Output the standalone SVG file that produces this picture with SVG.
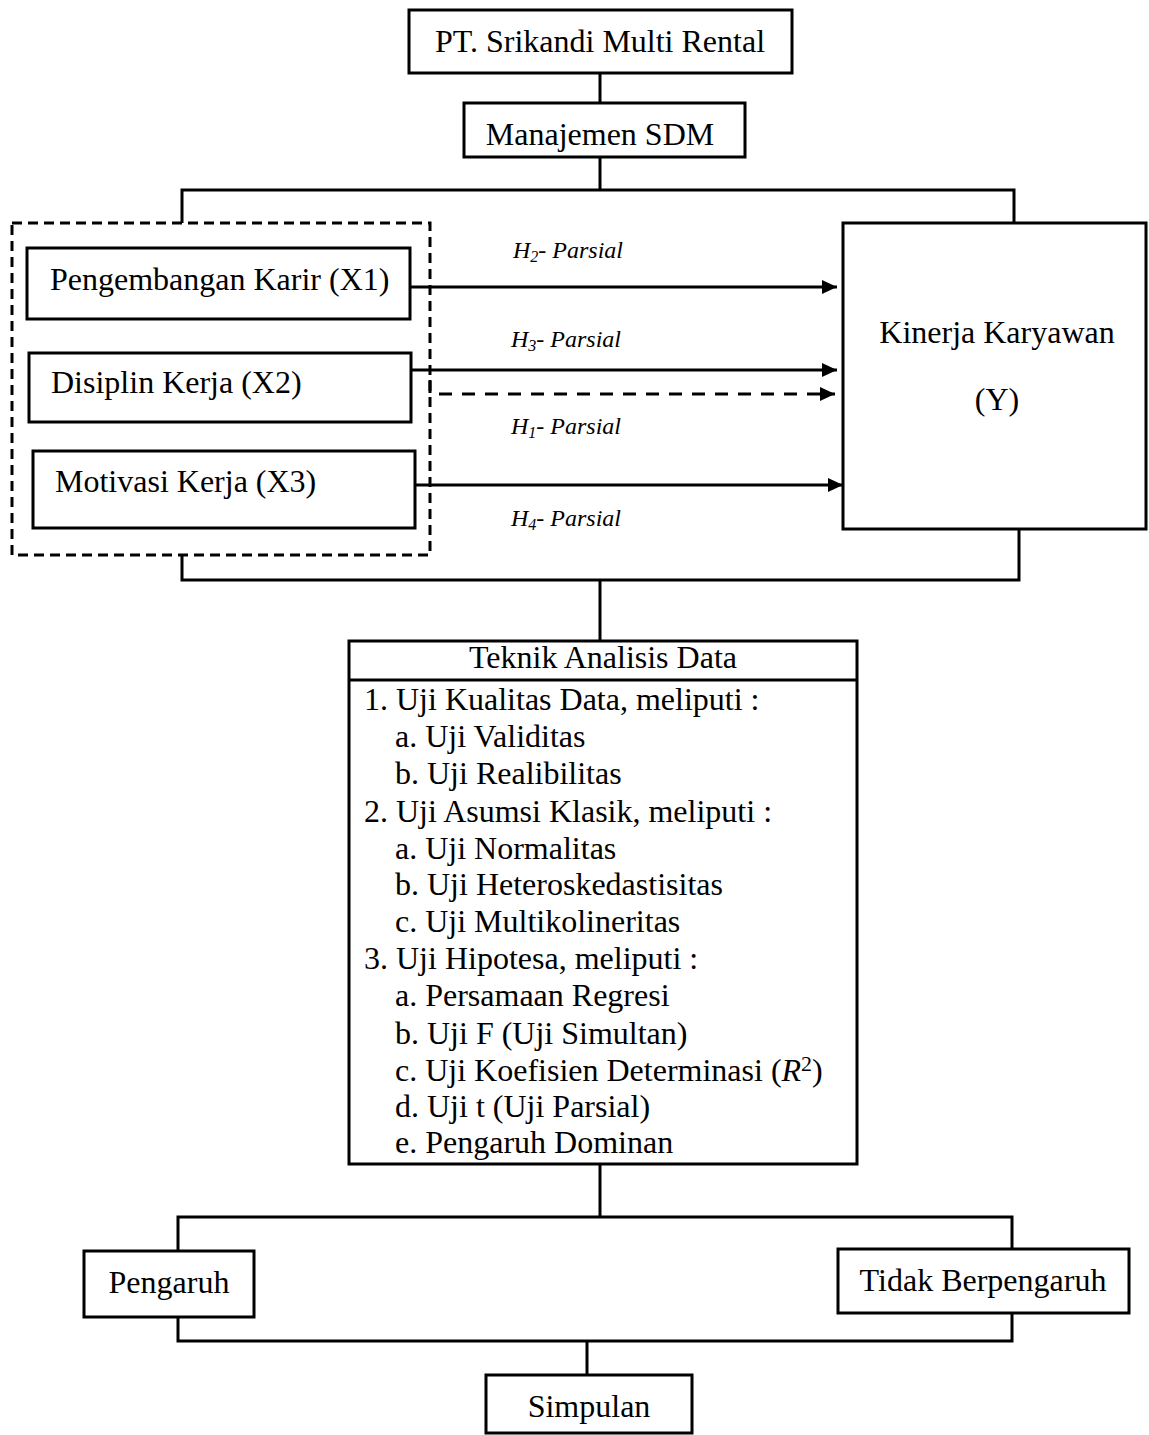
<svg xmlns="http://www.w3.org/2000/svg" width="1149" height="1435" viewBox="0 0 1149 1435">
<style>
.box{fill:#fff;stroke:#000;stroke-width:3}
.dbox{fill:none;stroke:#000;stroke-width:3;stroke-dasharray:10 6}
.ln{fill:none;stroke:#000;stroke-width:3}
.dl{fill:none;stroke:#000;stroke-width:3;stroke-dasharray:13 10}
.t{font-family:"Liberation Serif","Times New Roman",serif;font-size:32px;fill:#000}
.c{text-anchor:middle}
.h{font-family:"Liberation Serif","Times New Roman",serif;font-size:24px;font-style:italic;fill:#000}
</style>
<defs>
<marker id="ah" markerUnits="userSpaceOnUse" markerWidth="16" markerHeight="14" refX="15" refY="7" orient="auto">
<path d="M0,0 L15,7 L0,14 z" fill="#000"/>
</marker>
</defs>
<rect width="1149" height="1435" fill="#fff"/>
<g id="connectors">
<line class="ln" x1="600" y1="73" x2="600" y2="103"/>
<polyline class="ln" points="600,157 600,190"/>
<polyline class="ln" points="182,223 182,190 1014,190 1014,223"/>
<polyline class="ln" points="182,555 182,580 1019,580 1019,529"/>
<line class="ln" x1="600" y1="580" x2="600" y2="641"/>
<line class="ln" x1="410" y1="287" x2="837" y2="287" marker-end="url(#ah)"/>
<line class="ln" x1="411" y1="370" x2="837" y2="370" marker-end="url(#ah)"/>
<polyline class="dl" points="430,380 430,394 835,394" marker-end="url(#ah)"/>
<line class="ln" x1="415" y1="485" x2="843" y2="485" marker-end="url(#ah)"/>
<line class="ln" x1="600" y1="1164" x2="600" y2="1217"/>
<polyline class="ln" points="178,1251 178,1217 1012,1217 1012,1249"/>
<polyline class="ln" points="178,1314 178,1341 1012,1341 1012,1313"/>
<line class="ln" x1="587" y1="1341" x2="587" y2="1375"/>
</g>
<g id="labels">
<text class="h" x="513" y="258">H<tspan font-size="16" dy="4">2</tspan><tspan dy="-4">- Parsial</tspan></text>
<text class="h" x="511" y="347">H<tspan font-size="16" dy="4">3</tspan><tspan dy="-4">- Parsial</tspan></text>
<text class="h" x="511" y="434">H<tspan font-size="16" dy="4">1</tspan><tspan dy="-4">- Parsial</tspan></text>
<text class="h" x="511" y="526">H<tspan font-size="16" dy="4">4</tspan><tspan dy="-4">- Parsial</tspan></text>
</g>
<g id="pt">
<rect class="box" x="409" y="10" width="383" height="63"/>
<text class="t c" x="600" y="52">PT. Srikandi Multi Rental</text>
</g>
<g id="sdm">
<rect class="box" x="464" y="103" width="281" height="54"/>
<text class="t c" x="600" y="145">Manajemen SDM</text>
</g>
<g id="group-x">
<rect class="dbox" x="12" y="223" width="418" height="332"/>
</g>
<g id="x1">
<rect class="box" x="27" y="248" width="383" height="71"/>
<text class="t" x="50" y="290">Pengembangan Karir (X1)</text>
</g>
<g id="x2">
<rect class="box" x="29" y="353" width="382" height="69"/>
<text class="t" x="51" y="393">Disiplin Kerja (X2)</text>
</g>
<g id="x3">
<rect class="box" x="33" y="451" width="382" height="77"/>
<text class="t" x="55" y="492">Motivasi Kerja (X3)</text>
</g>
<g id="y">
<rect class="box" x="843" y="223" width="303" height="306"/>
<text class="t c" x="997" y="343">Kinerja Karyawan</text>
<text class="t c" x="997" y="410">(Y)</text>
</g>
<g id="teknik">
<rect class="box" x="349" y="641" width="508" height="523"/>
<line class="ln" x1="349" y1="680" x2="857" y2="680"/>
<text class="t c" x="603" y="668">Teknik Analisis Data</text>
<text class="t" x="364" y="710">1. Uji Kualitas Data, meliputi :</text>
<text class="t" x="395" y="747">a. Uji Validitas</text>
<text class="t" x="395" y="784">b. Uji Realibilitas</text>
<text class="t" x="364" y="822">2. Uji Asumsi Klasik, meliputi :</text>
<text class="t" x="395" y="859">a. Uji Normalitas</text>
<text class="t" x="395" y="895">b. Uji Heteroskedastisitas</text>
<text class="t" x="395" y="932">c. Uji Multikolineritas</text>
<text class="t" x="364" y="969">3. Uji Hipotesa, meliputi :</text>
<text class="t" x="395" y="1006">a. Persamaan Regresi</text>
<text class="t" x="395" y="1044">b. Uji F (Uji Simultan)</text>
<text class="t" x="395" y="1081">c. Uji Koefisien Determinasi (<tspan font-style="italic">R</tspan><tspan font-size="22" dy="-10">2</tspan><tspan dy="10">)</tspan></text>
<text class="t" x="395" y="1117">d. Uji t (Uji Parsial)</text>
<text class="t" x="395" y="1153">e. Pengaruh Dominan</text>
</g>
<g id="pengaruh">
<rect class="box" x="84" y="1251" width="170" height="66"/>
<text class="t c" x="169" y="1293">Pengaruh</text>
</g>
<g id="tidak">
<rect class="box" x="838" y="1249" width="291" height="64"/>
<text class="t c" x="983" y="1291">Tidak Berpengaruh</text>
</g>
<g id="simpulan">
<rect class="box" x="486" y="1375" width="206" height="58"/>
<text class="t c" x="589" y="1417">Simpulan</text>
</g>
</svg>
